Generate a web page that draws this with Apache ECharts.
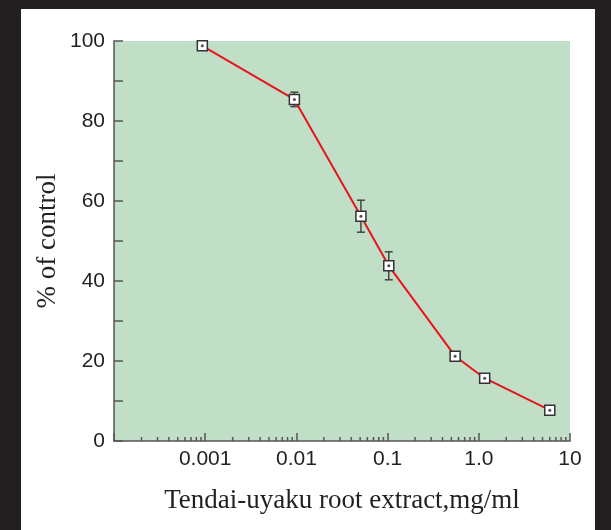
<!DOCTYPE html>
<html>
<head>
<meta charset="utf-8">
<style>
  html, body { margin: 0; padding: 0; background: #231f20; }
  #chart { width: 611px; height: 530px; }
</style>
<script src="https://cdn.jsdelivr.net/npm/echarts@6.0.0/dist/echarts.min.js"></script>
</head>
<body>
<div id="chart"></div>
<script>
// dose (mg/ml) and response (% of control)
const doses = [0.00093, 0.0095, 0.051, 0.103, 0.55, 1.16, 6.0];
const percent = [98.8, 85.4, 56.2, 43.8, 21.2, 15.7, 7.7];
const errors = [0, 1.8, 4.0, 3.5, 0, 0, 0];

// x tick labels by decade (0.0001 has no label)
const xTickLabels = { '-4': '', '-3': '0.001', '-2': '0.01', '-1': '0.1', '0': '1.0', '1': '10' };
const yTicks = [0, 20, 40, 60, 80, 100];

// log minor ticks: 2..9 within each decade
const minorTicks = [];
for (let e = -4; e < 1; e++) {
    for (let m = 2; m <= 9; m++) minorTicks.push([m * Math.pow(10, e)]);
}

const points = doses.map((d, i) => [d, percent[i]]);
const errorData = doses
    .map((d, i) => [d, percent[i] - errors[i], percent[i] + errors[i]])
    .filter((r, i) => errors[i] > 0);

const chart = echarts.init(document.getElementById('chart'));

const option = {
    animation: false,
    backgroundColor: '#231f20',
    graphic: [{
        type: 'rect',
        z: -10,
        shape: { x: 21, y: 9, width: 574, height: 530 },
        style: { fill: '#ffffff' }
    }],
    grid: {
        left: 114, top: 41, width: 456, height: 400,
        show: true, backgroundColor: '#c1dfc6', borderWidth: 0
    },
    xAxis: {
        type: 'log',
        logBase: 10,
        min: 0.0001,
        max: 10,
        name: 'Tendai-uyaku root extract,mg/ml',
        nameLocation: 'middle',
        nameGap: 46,
        nameMoveOverlap: false,
        nameTextStyle: { fontFamily: 'Liberation Serif', fontSize: 27, color: '#231f20' },
        axisLine: { lineStyle: { color: '#555', width: 1.5 } },
        axisTick: { inside: true, length: 8, lineStyle: { color: '#555', width: 1.5 } },
        splitLine: { show: false },
        axisLabel: {
            margin: 8,
            fontFamily: 'Liberation Sans',
            fontSize: 21,
            color: '#231f20',
            formatter: v => {
                const e = Math.round(Math.log10(v));
                return xTickLabels[String(e)] !== undefined ? xTickLabels[String(e)] : '';
            }
        }
    },
    yAxis: {
        type: 'value',
        min: 0,
        max: 100,
        interval: 20,
        name: '% of control',
        nameLocation: 'middle',
        nameGap: 53,
        nameMoveOverlap: false,
        nameTextStyle: { fontFamily: 'Liberation Serif', fontSize: 27, color: '#231f20' },
        axisLine: { show: true, lineStyle: { color: '#555', width: 1.5 } },
        axisTick: { show: true, inside: true, length: 9, lineStyle: { color: '#555', width: 1.5 } },
        minorTick: { show: true, splitNumber: 2, length: 9, lineStyle: { color: '#555', width: 1.5 } },
        splitLine: { show: false },
        axisLabel: {
            margin: 9,
            fontFamily: 'Liberation Sans',
            fontSize: 21,
            color: '#231f20',
            formatter: v => (yTicks.indexOf(v) >= 0 ? String(v) : '')
        }
    },
    series: [
        {
            // minor log ticks on the x axis
            type: 'custom',
            silent: true,
            clip: false,
            z: 1,
            data: minorTicks,
            encode: { x: 0 },
            renderItem: (params, api) => {
                const p = api.coord([api.value(0), 0]);
                return {
                    type: 'line',
                    shape: { x1: p[0], y1: p[1], x2: p[0], y2: p[1] - 4 },
                    style: { stroke: '#555', lineWidth: 1.5 }
                };
            }
        },
        {
            // error bars
            type: 'custom',
            silent: true,
            z: 2,
            data: errorData,
            encode: { x: 0, y: [1, 2] },
            renderItem: (params, api) => {
                const lo = api.coord([api.value(0), api.value(1)]);
                const hi = api.coord([api.value(0), api.value(2)]);
                const w = 4;
                const st = { stroke: '#444', lineWidth: 1.5 };
                return {
                    type: 'group',
                    children: [
                        { type: 'line', shape: { x1: lo[0], y1: lo[1], x2: hi[0], y2: hi[1] }, style: st },
                        { type: 'line', shape: { x1: lo[0] - w, y1: lo[1], x2: lo[0] + w, y2: lo[1] }, style: st },
                        { type: 'line', shape: { x1: hi[0] - w, y1: hi[1], x2: hi[0] + w, y2: hi[1] }, style: st }
                    ]
                };
            }
        },
        {
            type: 'line',
            z: 3,
            data: points,
            symbol: 'rect',
            symbolSize: 10,
            showAllSymbol: true,
            lineStyle: { color: '#e8141c', width: 2 },
            itemStyle: { color: '#ffffff', borderColor: '#333', borderWidth: 1.5 }
        },
        {
            // centre dot in each marker
            type: 'scatter',
            z: 4,
            data: points,
            symbol: 'circle',
            symbolSize: 3,
            itemStyle: { color: '#222' },
            silent: true
        }
    ]
};

chart.setOption(option);
</script>
</body>
</html>
